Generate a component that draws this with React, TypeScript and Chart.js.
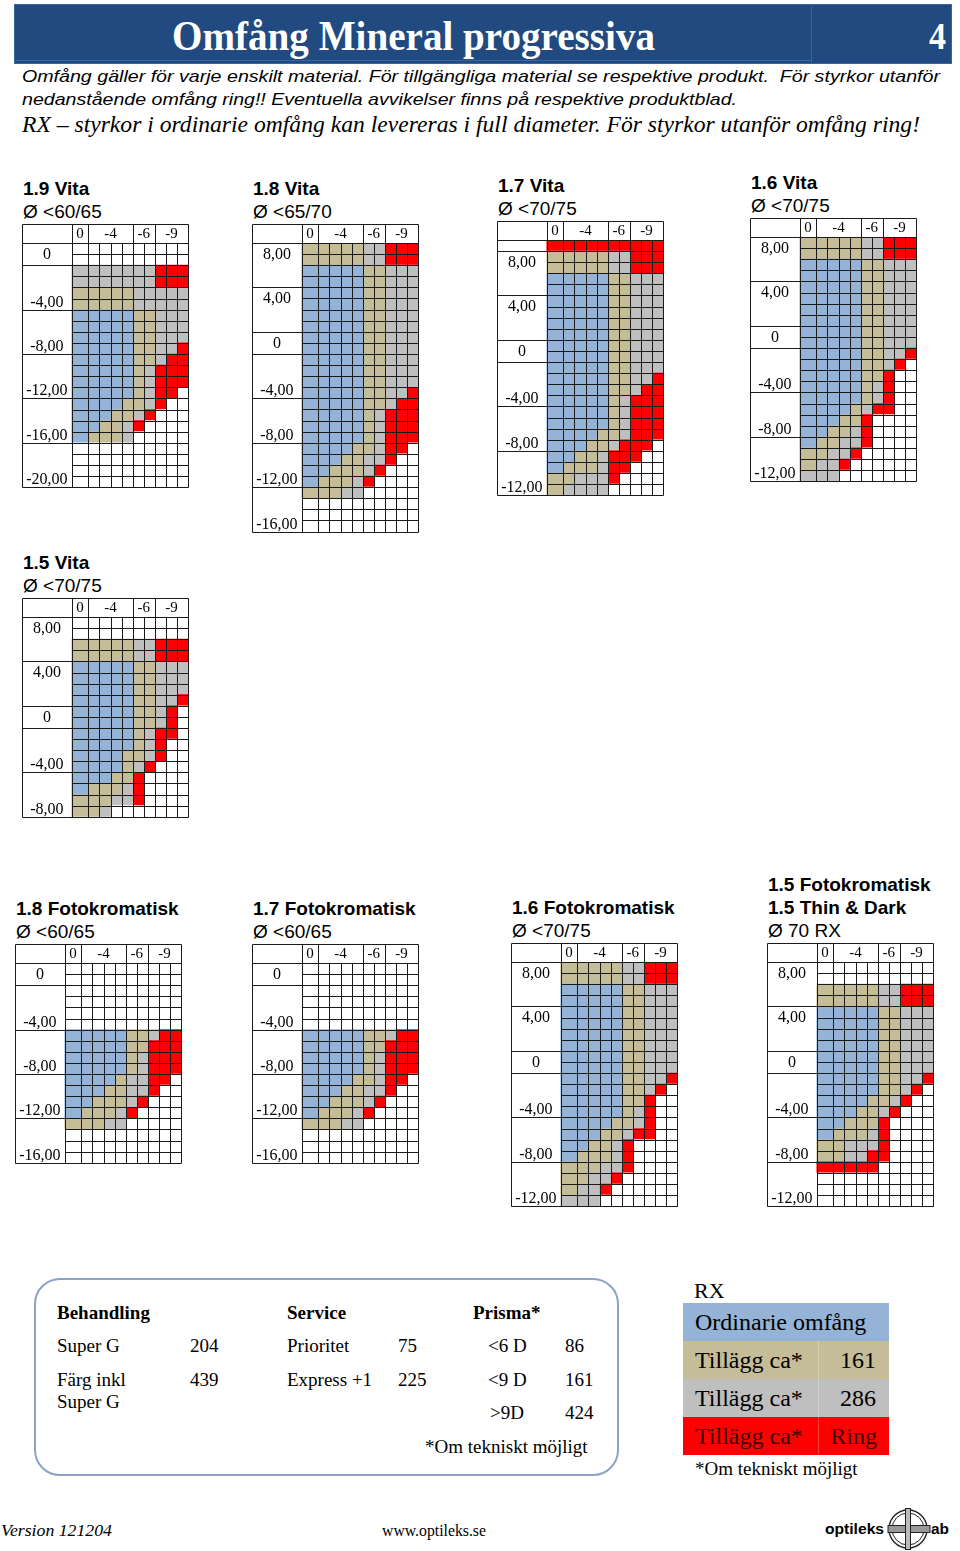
import React, { useEffect, useLayoutEffect, useRef } from 'react';
import { Chart, registerables } from 'chart.js';

Chart.register(...registerables);

// ---------- data ----------
const CYL_HEADERS = ['0', '-4', '-6', '-9'];
const CYL_SPANS = [1, 4, 2, 3];

const COLORS: Record<string, string> = {
  W: '#ffffff',
  B: '#95b3d7',
  T: '#c4bd97',
  G: '#bfbfbf',
  R: '#ff0000',
};

const ROWS_19_VITA = [
  'WWWWWWWWWW', 'WWWWWWWWWW', 'GGGGGGGRRR', 'GGGGGGGRRR', 'TTTTTGGGGG', 'TTTTTGGGGG',
  'BBBBBTTGGG', 'BBBBBTTGGG', 'BBBBBTTGGG', 'BBBBBTTGGR', 'BBBBBTTGRR', 'BBBBBTGRRR',
  'BBBBBTGRRR', 'BBBBBTGRRW', 'BBBBTTGRWW', 'BBBTTGRWWW', 'BBTTGRWWWW', 'BTTTGWWWWW',
  'WWWWWWWWWW', 'WWWWWWWWWW', 'WWWWWWWWWW', 'WWWWWWWWWW',
];
const GROUPS_19_VITA = [2, 4, 4, 4, 4, 4];
const LABELS_19_VITA = ['0', '-4,00', '-8,00', '-12,00', '-16,00', '-20,00'];

const ROWS_18_VITA = [
  'TTTTTGGRRR', 'TTTTTGGRRR', 'BBBBBTTGGG', 'BBBBBTTGGG', 'BBBBBTTGGG', 'BBBBBTTGGG',
  'BBBBBTTGGG', 'BBBBBTTGGG', 'BBBBBTTGGG', 'BBBBBTTGGG', 'BBBBBTTGGG', 'BBBBBTTGGG',
  'BBBBBTTGGG', 'BBBBBTTGGR', 'BBBBBTTGRR', 'BBBBBTGRRR', 'BBBBBTGRRR', 'BBBBBTGRRR',
  'BBBBTTGRRW', 'BBBTTGGRWW', 'BBTTTGRWWW', 'BTTTGRWWWW', 'TTTGGWWWWW', 'WWWWWWWWWW',
  'WWWWWWWWWW', 'WWWWWWWWWW',
];
const GROUPS_18_VITA = [4, 4, 2, 4, 4, 4, 4];
const LABELS_18_VITA = ['8,00', '4,00', '0', '-4,00', '-8,00', '-12,00', '-16,00'];

const ROWS_17_VITA = [
  'RRRRRRRRRR', 'TTTTTGGRRR', 'TTTTTGGRRR', 'BBBBBTTGGG', 'BBBBBTTGGG', 'BBBBBTTGGG',
  'BBBBBTTGGG', 'BBBBBTTGGG', 'BBBBBTTGGG', 'BBBBBTTGGG', 'BBBBBTTGGG', 'BBBBBTTGGG',
  'BBBBBTTGGR', 'BBBBBTTGRR', 'BBBBBTGRRR', 'BBBBBTGRRR', 'BBBBBTGRRR', 'BBBBTTGRRR',
  'BBBTTGRRRW', 'BBTTGRRRWW', 'BTTTGRRWWW', 'TTGGGRWWWW', 'TGGGGWWWWW',
];
const GROUPS_17_VITA = [1, 4, 4, 2, 4, 4, 4];
const LABELS_17_VITA = ['', '8,00', '4,00', '0', '-4,00', '-8,00', '-12,00'];

const ROWS_16_VITA = [
  'TTTTTGGRRR', 'TTTTTGGRRR', 'BBBBBTTGGG', 'BBBBBTTGGG', 'BBBBBTTGGG', 'BBBBBTTGGG',
  'BBBBBTTGGG', 'BBBBBTTGGG', 'BBBBBTTGGG', 'BBBBBTTGGG', 'BBBBBTTGGR', 'BBBBBTTGRW',
  'BBBBBTTRWW', 'BBBBBTGRWW', 'BBBBBTGRWW', 'BBBBTGRRWW', 'BBBTTRWWWW', 'BBTTGRWWWW',
  'BTTGGRWWWW', 'TTGGRWWWWW', 'TGGRWWWWWW', 'GGGWWWWWWW',
];
const GROUPS_16_VITA = [4, 4, 2, 4, 4, 4];
const LABELS_16_VITA = ['8,00', '4,00', '0', '-4,00', '-8,00', '-12,00'];

const ROWS_15_VITA = [
  'WWWWWWWWWW', 'WWWWWWWWWW', 'TTTTTGGRRR', 'TTTTTGGRRR', 'BBBBBTTGGG', 'BBBBBTTGGG',
  'BBBBBTTGGG', 'BBBBBTTGGR', 'BBBBBTTGRW', 'BBBBBTTGRW', 'BBBBBTGRRW', 'BBBBBTGRWW',
  'BBBBTTGRWW', 'BBBBTGRWWW', 'BBBTTRWWWW', 'BTTTGRWWWW', 'TTTGGRWWWW', 'TTGWWWWWWW',
];
const GROUPS_15_VITA = [4, 4, 2, 4, 4];
const LABELS_15_VITA = ['8,00', '4,00', '0', '-4,00', '-8,00'];

const ROWS_18_FOTO = [
  'WWWWWWWWWW', 'WWWWWWWWWW', 'WWWWWWWWWW', 'WWWWWWWWWW', 'WWWWWWWWWW', 'WWWWWWWWWW',
  'BBBBBTTGRR', 'BBBBBTTRRR', 'BBBBBTGRRR', 'BBBBBTGRRR', 'BBBBTGGRRW', 'BBBTTGGRWW',
  'BBTTTGRWWW', 'BTTTGRWWWW', 'TTTGGWWWWW', 'WWWWWWWWWW', 'WWWWWWWWWW', 'WWWWWWWWWW',
];
const GROUPS_18_FOTO = [2, 4, 4, 4, 4];
const LABELS_18_FOTO = ['0', '-4,00', '-8,00', '-12,00', '-16,00'];

const ROWS_17_FOTO = [
  'WWWWWWWWWW', 'WWWWWWWWWW', 'WWWWWWWWWW', 'WWWWWWWWWW', 'WWWWWWWWWW', 'WWWWWWWWWW',
  'BBBBBTTGRR', 'BBBBBTTRRR', 'BBBBBTGRRR', 'BBBBBTGRRR', 'BBBBTTGRRW', 'BBBTTGGRWW',
  'BBTTTGRWWW', 'BTTTGRWWWW', 'TTTGGWWWWW', 'WWWWWWWWWW', 'WWWWWWWWWW', 'WWWWWWWWWW',
];
const GROUPS_17_FOTO = [2, 4, 4, 4, 4];
const LABELS_17_FOTO = ['0', '-4,00', '-8,00', '-12,00', '-16,00'];

const ROWS_16_FOTO = [
  'TTTTTGGRRR', 'TTTTTGGRRR', 'BBBBBTTGGG', 'BBBBBTTGGG', 'BBBBBTTGGG', 'BBBBBTTGGG',
  'BBBBBTTGGG', 'BBBBBTTGGG', 'BBBBBTTGGG', 'BBBBBTTGGG', 'BBBBBTTGGR', 'BBBBBTTGRW',
  'BBBBBTTRWW', 'BBBBBTGRWW', 'BBBBTTGRWW', 'BBBTTGRRWW', 'BBTTGRWWWW', 'BTTTGRWWWW',
  'TTTGGRWWWW', 'TTGGRWWWWW', 'TGGRWWWWWW', 'GGGWWWWWWW',
];
const GROUPS_16_FOTO = [4, 4, 2, 4, 4, 4];
const LABELS_16_FOTO = ['8,00', '4,00', '0', '-4,00', '-8,00', '-12,00'];

const ROWS_15_FOTO = [
  'WWWWWWWWWW', 'WWWWWWWWWW', 'TTTTTGGRRR', 'TTTTTGGRRR', 'BBBBBTTGGG', 'BBBBBTTGGG',
  'BBBBBTTGGG', 'BBBBBTTGGG', 'BBBBBTTGGG', 'BBBBBTTGGG', 'BBBBBTTGGR', 'BBBBBTTGRW',
  'BBBBTTGRWW', 'BBBTTGRWWW', 'BBTTTRWWWW', 'BTTTGRWWWW', 'TTGGGRWWWW', 'TTGGRRWWWW',
  'RRRRRWWWWW', 'WWWWWWWWWW', 'WWWWWWWWWW', 'WWWWWWWWWW',
];
const GROUPS_15_FOTO = [4, 4, 2, 4, 4, 4];
const LABELS_15_FOTO = ['8,00', '4,00', '0', '-4,00', '-8,00', '-12,00'];

// ---------- layout ----------
const LABEL_W = 4.5;
const FIRST_W = 1.5;
const X_MAX = 15;
const COL_EDGES = [LABEL_W, ...Array.from({ length: 10 }, (_, i) => LABEL_W + FIRST_W + i)];
const HEADER_H = 19;
const ROW_H = 11.1;
const TABLE_PX = 166;
const CANVAS_W = 169;

const GRIDS = [
  { rows: ROWS_19_VITA, groups: GROUPS_19_VITA, labels: LABELS_19_VITA, left: 22, hb: 243, titles: ['1.9 Vita'], sub: 'Ø <60/65' },
  { rows: ROWS_18_VITA, groups: GROUPS_18_VITA, labels: LABELS_18_VITA, left: 252, hb: 243, titles: ['1.8 Vita'], sub: 'Ø <65/70' },
  { rows: ROWS_17_VITA, groups: GROUPS_17_VITA, labels: LABELS_17_VITA, left: 497, hb: 240, titles: ['1.7 Vita'], sub: 'Ø <70/75' },
  { rows: ROWS_16_VITA, groups: GROUPS_16_VITA, labels: LABELS_16_VITA, left: 750, hb: 237, titles: ['1.6 Vita'], sub: 'Ø <70/75' },
  { rows: ROWS_15_VITA, groups: GROUPS_15_VITA, labels: LABELS_15_VITA, left: 22, hb: 617, titles: ['1.5 Vita'], sub: 'Ø <70/75' },
  { rows: ROWS_18_FOTO, groups: GROUPS_18_FOTO, labels: LABELS_18_FOTO, left: 15, hb: 963, titles: ['1.8 Fotokromatisk'], sub: 'Ø <60/65' },
  { rows: ROWS_17_FOTO, groups: GROUPS_17_FOTO, labels: LABELS_17_FOTO, left: 252, hb: 963, titles: ['1.7 Fotokromatisk'], sub: 'Ø <60/65' },
  { rows: ROWS_16_FOTO, groups: GROUPS_16_FOTO, labels: LABELS_16_FOTO, left: 511, hb: 962, titles: ['1.6 Fotokromatisk'], sub: 'Ø <70/75' },
  { rows: ROWS_15_FOTO, groups: GROUPS_15_FOTO, labels: LABELS_15_FOTO, left: 767, hb: 962, titles: ['1.5 Fotokromatisk', '1.5 Thin & Dark'], sub: 'Ø 70 RX' },
];

const SERIF = '"Liberation Serif", "Times New Roman", serif';
const SANS = '"Liberation Sans", Arial, sans-serif';

function RangeGrid({ rows, groups, labels, left, hb }: any) {
  const ref = useRef<HTMLCanvasElement>(null);
  const n = rows.length;
  const canvasH = Math.ceil(HEADER_H + n * ROW_H) + 3;

  useEffect(() => {
    const canvas = ref.current;
    if (!canvas) return;
    const datasets = Array.from({ length: 10 }, (_, c) => ({
      data: rows.map(() => [COL_EDGES[c], COL_EDGES[c + 1]]),
      backgroundColor: rows.map((r: string) => COLORS[r[c]]),
      borderWidth: 0,
      grouped: false,
      barPercentage: 1,
      categoryPercentage: 1,
    }));
    const plugin = {
      id: 'rangeTable',
      afterDatasetsDraw(chart: any) {
        const { ctx, chartArea } = chart;
        const xs = chart.scales.x;
        const ys = chart.scales.y;
        const rh = (chartArea.bottom - chartArea.top) / n;
        const X = (v: number) => Math.round(xs.getPixelForValue(v)) + 0.5;
        const Y = (i: number) => Math.round(ys.getPixelForValue(i) - rh / 2) + 0.5;
        const topY = 0.5;
        const headY = Y(0);
        const botY = Y(n);
        ctx.save();
        ctx.strokeStyle = '#1a1a1a';
        ctx.lineWidth = 1;
        ctx.beginPath();
        ctx.rect(X(0), topY, X(X_MAX) - X(0), botY - topY);
        ctx.moveTo(X(0), headY);
        ctx.lineTo(X(X_MAX), headY);
        ctx.moveTo(X(LABEL_W), topY);
        ctx.lineTo(X(LABEL_W), botY);
        let acc = 0;
        CYL_SPANS.forEach((s) => {
          acc += s;
          if (acc < 10) {
            ctx.moveTo(X(COL_EDGES[acc]), topY);
            ctx.lineTo(X(COL_EDGES[acc]), headY);
          }
        });
        for (let c = 1; c < 10; c++) {
          ctx.moveTo(X(COL_EDGES[c]), headY);
          ctx.lineTo(X(COL_EDGES[c]), botY);
        }
        for (let i = 1; i < n; i++) {
          ctx.moveTo(X(LABEL_W), Y(i));
          ctx.lineTo(X(X_MAX), Y(i));
        }
        let r = 0;
        groups.forEach((g: number, gi: number) => {
          r += g;
          if (gi < groups.length - 1) {
            ctx.moveTo(X(0), Y(r));
            ctx.lineTo(X(LABEL_W), Y(r));
          }
        });
        ctx.stroke();

        ctx.fillStyle = '#000';
        ctx.textAlign = 'center';
        ctx.textBaseline = 'middle';
        ctx.font = '15px ' + SERIF;
        acc = 0;
        CYL_SPANS.forEach((s, i) => {
          const a = xs.getPixelForValue(COL_EDGES[acc]);
          const b = xs.getPixelForValue(COL_EDGES[acc + s]);
          ctx.fillText(CYL_HEADERS[i], (a + b) / 2, HEADER_H / 2 + 1);
          acc += s;
        });
        ctx.font = '16px ' + SERIF;
        const cx = (xs.getPixelForValue(0) + xs.getPixelForValue(LABEL_W)) / 2;
        r = 0;
        groups.forEach((g: number, gi: number) => {
          const lab = labels[gi];
          const t = Y(r);
          const b = Y(r + g);
          let yy = (t + b) / 2;
          if (lab.startsWith('-')) yy = b - 8.5;
          else if (lab !== '0' && lab !== '') yy = t + 11;
          if (lab) ctx.fillText(lab, cx, yy + 0.5);
          r += g;
        });
        ctx.restore();
      },
    };
    const chart = new Chart(canvas, {
      type: 'bar',
      data: { labels: rows.map((_: string, i: number) => String(i)), datasets: datasets as any },
      options: {
        indexAxis: 'y',
        animation: false,
        responsive: false,
        maintainAspectRatio: false,
        devicePixelRatio: 1,
        events: [],
        layout: {
          padding: {
            top: HEADER_H,
            left: 0,
            right: CANVAS_W - TABLE_PX,
            bottom: canvasH - HEADER_H - n * ROW_H,
          },
        },
        scales: {
          x: { type: 'linear', min: 0, max: X_MAX, display: false },
          y: { type: 'category', display: false },
        },
        plugins: { legend: { display: false }, tooltip: { enabled: false } },
      } as any,
      plugins: [plugin],
    });
    return () => chart.destroy();
  }, []);

  return (
    <canvas
      ref={ref}
      width={CANVAS_W}
      height={canvasH}
      style={{ position: 'absolute', left, top: hb - HEADER_H, width: CANVAS_W, height: canvasH }}
    />
  );
}

function FitText({ x, y, w, size, lh, style, children }: any) {
  const ref = useRef<HTMLSpanElement>(null);
  useLayoutEffect(() => {
    const el = ref.current;
    if (!el) return;
    el.style.transform = 'none';
    const cw = el.getBoundingClientRect().width;
    if (cw > 0) el.style.transform = `scaleX(${w / cw})`;
  }, [w]);
  const L = lh || Math.round(size * 1.3);
  return (
    <div style={{ position: 'absolute', left: x, top: y - L / 2, height: L, lineHeight: L + 'px', fontSize: size, whiteSpace: 'pre', ...style }}>
      <span ref={ref} style={{ display: 'inline-block', transformOrigin: '0 50%' }}>{children}</span>
    </div>
  );
}

function T({ x, y, size, style, children, right }: any) {
  const L = Math.round(size * 1.3);
  const pos: any = right !== undefined ? { left: right - 300, width: 300, textAlign: 'right' } : { left: x };
  return (
    <div style={{ position: 'absolute', top: y - L / 2, height: L, lineHeight: L + 'px', fontSize: size, whiteSpace: 'pre', fontFamily: SERIF, color: '#000', ...pos, ...style }}>
      {children}
    </div>
  );
}

export default function App() {
  return (
    <div style={{ position: 'absolute', left: 0, top: 0, width: 960, height: 1551, background: '#fff', overflow: 'hidden', fontFamily: SERIF }}>
      {/* header bar */}
      <div style={{ position: 'absolute', left: 14, top: 4, width: 938, height: 60, background: '#204a80', boxShadow: 'inset 0 0 0 1px #3a66a0' }} />
      <div style={{ position: 'absolute', left: 811, top: 6, width: 1, height: 56, background: '#3a66a0' }} />
      <div style={{ position: 'absolute', left: 16, top: 60, width: 795, height: 1, background: '#3a66a0' }} />
      <FitText x={172} y={36} w={483} size={42} lh={50} style={{ fontFamily: SERIF, fontWeight: 'bold', color: '#fff' }}>
        Omfång Mineral progressiva
      </FitText>
      <FitText x={929} y={36} w={17} size={38} lh={46} style={{ fontFamily: SERIF, fontWeight: 'bold', color: '#fff' }}>
        4
      </FitText>

      <FitText x={22} y={77} w={918} size={17} lh={22} style={{ fontFamily: SANS, fontStyle: 'italic', color: '#000' }}>
        {'Omfång gäller för varje enskilt material. För tillgängliga material se respektive produkt.  För styrkor utanför'}
      </FitText>
      <FitText x={22} y={100} w={715} size={17} lh={22} style={{ fontFamily: SANS, fontStyle: 'italic', color: '#000' }}>
        nedanstående omfång ring!! Eventuella avvikelser finns på respektive produktblad.
      </FitText>
      <FitText x={22} y={125} w={898} size={23} lh={28} style={{ fontFamily: SERIF, fontStyle: 'italic', color: '#000' }}>
        RX – styrkor i ordinarie omfång kan levereras i full diameter. För styrkor utanför omfång ring!
      </FitText>

      {GRIDS.map((g, i) => {
        const headerTop = g.hb - HEADER_H;
        const lines = [...g.titles, g.sub];
        return (
          <React.Fragment key={i}>
            {lines.map((t, k) => (
              <div
                key={k}
                style={{
                  position: 'absolute',
                  left: g.left + 1,
                  top: headerTop - 12 - 23 * (lines.length - 1 - k) - 12,
                  height: 24,
                  lineHeight: '24px',
                  fontFamily: SANS,
                  fontSize: 19,
                  fontWeight: k < g.titles.length ? 'bold' : 'normal',
                  whiteSpace: 'pre',
                  color: '#000',
                }}
              >
                {t}
              </div>
            ))}
            <RangeGrid rows={g.rows} groups={g.groups} labels={g.labels} left={g.left} hb={g.hb} />
          </React.Fragment>
        );
      })}

      {/* price box */}
      <div style={{ position: 'absolute', left: 34, top: 1278, width: 581, height: 194, border: '2px solid #8aa4c8', borderRadius: 26 }} />
      <T x={57} y={1312} size={19} style={{ fontWeight: 'bold' }}>Behandling</T>
      <T x={57} y={1345} size={19}>Super G</T>
      <T x={190} y={1345} size={19}>204</T>
      <T x={57} y={1379} size={19}>Färg inkl</T>
      <T x={190} y={1379} size={19}>439</T>
      <T x={57} y={1401} size={19}>Super G</T>
      <T x={287} y={1312} size={19} style={{ fontWeight: 'bold' }}>Service</T>
      <T x={287} y={1345} size={19}>Prioritet</T>
      <T x={398} y={1345} size={19}>75</T>
      <T x={287} y={1379} size={19}>Express +1</T>
      <T x={398} y={1379} size={19}>225</T>
      <T x={473} y={1312} size={19} style={{ fontWeight: 'bold' }}>Prisma*</T>
      <T x={488} y={1345} size={19}>{'<6 D'}</T>
      <T x={565} y={1345} size={19}>86</T>
      <T x={488} y={1379} size={19}>{'<9 D'}</T>
      <T x={565} y={1379} size={19}>161</T>
      <T x={490} y={1412} size={19}>{'>9D'}</T>
      <T x={565} y={1412} size={19}>424</T>
      <T x={425} y={1446} size={19}>*Om tekniskt möjligt</T>

      {/* RX legend */}
      <T x={694} y={1290} size={22}>RX</T>
      <div style={{ position: 'absolute', left: 683, top: 1303, width: 206, height: 38, background: COLORS.B }} />
      <div style={{ position: 'absolute', left: 683, top: 1341, width: 206, height: 38, background: COLORS.T }} />
      <div style={{ position: 'absolute', left: 683, top: 1379, width: 206, height: 38, background: COLORS.G }} />
      <div style={{ position: 'absolute', left: 683, top: 1417, width: 206, height: 38, background: COLORS.R }} />
      <div style={{ position: 'absolute', left: 818, top: 1341, width: 1, height: 114, background: 'rgba(255,255,255,0.25)' }} />
      <T x={695} y={1322} size={24}>Ordinarie omfång</T>
      <T x={695} y={1360} size={24}>Tillägg ca*</T>
      <T right={876} y={1360} size={24}>161</T>
      <T x={695} y={1398} size={24}>Tillägg ca*</T>
      <T right={876} y={1398} size={24}>286</T>
      <T x={695} y={1436} size={24} style={{ color: '#3a0000' }}>Tillägg ca*</T>
      <T right={877} y={1436} size={24} style={{ color: '#3a0000' }}>Ring</T>
      <T x={695} y={1468} size={19}>*Om tekniskt möjligt</T>

      {/* footer */}
      <FitText x={1} y={1530} w={111} size={16} style={{ fontFamily: SERIF, fontStyle: 'italic', color: '#000' }}>
        Version 121204
      </FitText>
      <FitText x={382} y={1530} w={104} size={16} style={{ fontFamily: SERIF, color: '#000' }}>
        www.optileks.se
      </FitText>
      <FitText x={825} y={1529} w={59} size={15} style={{ fontFamily: SANS, fontWeight: 'bold', color: '#000' }}>
        optileks
      </FitText>
      <FitText x={931} y={1529} w={18} size={15} style={{ fontFamily: SANS, fontWeight: 'bold', color: '#000' }}>
        ab
      </FitText>
      <svg style={{ position: 'absolute', left: 887, top: 1508 }} width={44} height={44} viewBox="0 0 44 44">
        <circle cx={21} cy={21} r={19} fill="none" stroke="#222" strokeWidth={1.4} />
        <circle cx={21} cy={21} r={16} fill="none" stroke="#222" strokeWidth={1} />
        <rect x={1} y={17.5} width={42} height={7} fill="#999" stroke="#222" strokeWidth={1} />
        <rect x={18.5} y={0.5} width={5} height={41} fill="#bbb" stroke="#222" strokeWidth={1} />
      </svg>
    </div>
  );
}
